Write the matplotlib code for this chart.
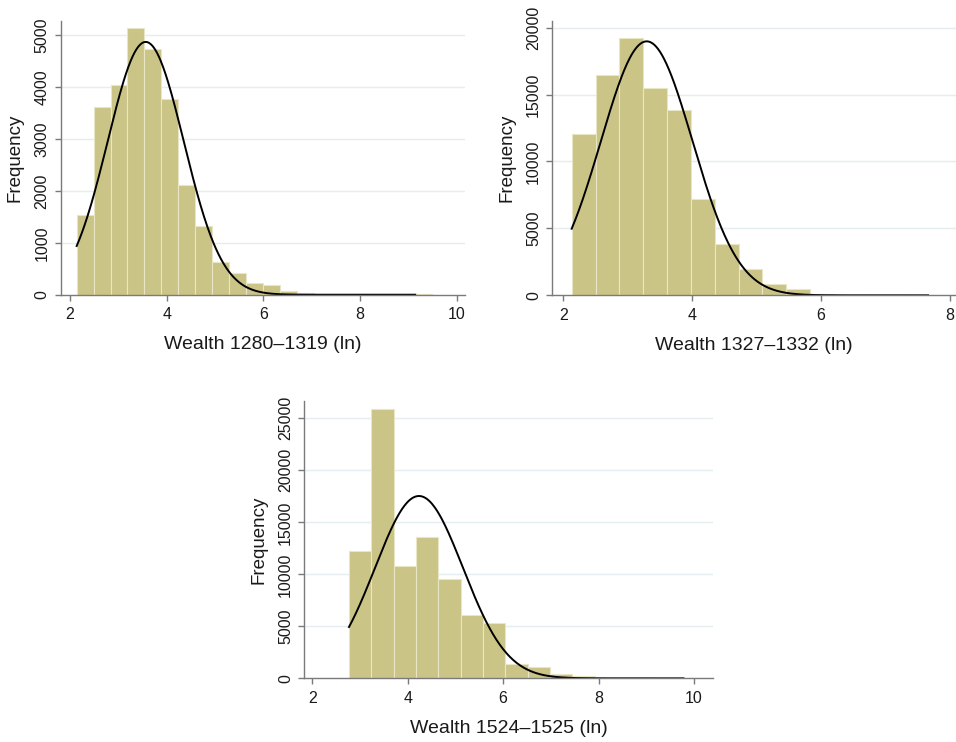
import numpy as np
import matplotlib
matplotlib.use('Agg')
import matplotlib.pyplot as plt

plt.rcParams['font.family'] = ['Liberation Sans', 'DejaVu Sans']

# Panel 1: wealth 1280-1319
start1 = 2.138
width1 = 0.35
counts1 = [1542, 3625, 4042, 5148, 4730, 3772, 2114, 1324, 630, 411, 225, 180,
           70, 25, 12, 8, 5, 3, 2, 2, 15]
mu1, sd1, n1, xmax1 = 3.566, 0.787, 27455, 9.14

# Panel 2: wealth 1327-1332
start2 = 2.130
width2 = 0.37
counts2 = [12055, 16438, 19228, 15517, 13823, 7173, 3861, 1943, 872, 473, 100,
           60, 30, 15, 10]
mu2, sd2, n2, xmax2 = 3.294, 0.7115, 91480, 7.66

# Panel 3: wealth 1524-1525
start3 = 2.769
width3 = 0.468
counts3 = [12276, 25897, 10833, 13558, 9519, 6058, 5321, 1378, 1090, 385, 192,
           60, 15, 8, 5, 40]
mu3, sd3, n3, xmax3 = 4.236, 0.9215, 86530, 9.78

labels = ['Wealth 1280\u20131319 (ln)', 'Wealth 1327\u20131332 (ln)',
          'Wealth 1524\u20131525 (ln)']

bar_col = '#cbc487'
edge_col = '#e9e6c6'
grid_col = '#e4edef'
axis_col = '#7a7a7a'

fig = plt.figure(figsize=(9.56, 7.42), dpi=100)


def draw_panel(rect, start, width, counts, mu, sd, n, xmax, xlim, ylim,
               xticks, yticks, label):
    ax = fig.add_axes(rect)
    edges = start + width * np.arange(len(counts))
    ax.bar(edges, counts, width=width, align='edge', color=bar_col,
           edgecolor=edge_col, linewidth=0.8, zorder=2)
    # normal density scaled to frequency
    xs = np.linspace(start, xmax, 400)
    ys = n * width / (sd * np.sqrt(2 * np.pi)) * np.exp(-0.5 * ((xs - mu) / sd) ** 2)
    ax.plot(xs, ys, color='black', lw=1.4, zorder=3)

    ax.set_xlim(*xlim)
    ax.set_ylim(*ylim)
    ax.set_xticks(xticks)
    ax.set_yticks(yticks)
    for y in yticks[1:]:
        ax.axhline(y, color=grid_col, lw=1.0, zorder=1)
    for s in ['top', 'right']:
        ax.spines[s].set_visible(False)
    for s in ['left', 'bottom']:
        ax.spines[s].set_color(axis_col)
        ax.spines[s].set_linewidth(1.0)
    ax.spines['bottom'].set_zorder(4)
    ax.tick_params(axis='both', direction='out', length=4, width=1.0,
                   color=axis_col, labelsize=11.5, labelcolor='#1a1a1a')
    ax.tick_params(axis='x', pad=5)
    ax.tick_params(axis='y', pad=4)
    for t in ax.get_yticklabels():
        t.set_rotation(90)
        t.set_va('center')
    ax.set_xlabel(label, fontsize=14, labelpad=10, color='#1a1a1a')
    ax.set_ylabel('Frequency', fontsize=13.5, labelpad=8, color='#1a1a1a')
    return ax


draw_panel([0.0635, 0.6028, 0.4229, 0.3693], start1, width1, counts1,
           mu1, sd1, n1, xmax1, (1.808, 10.17), (0, 5280),
           [2, 4, 6, 8, 10], [0, 1000, 2000, 3000, 4000, 5000], labels[0])

draw_panel([0.5777, 0.602, 0.4223, 0.3701], start2, width2, counts2,
           mu2, sd2, n2, xmax2, (1.829, 8.093), (0, 20520),
           [2, 4, 6, 8], [0, 5000, 10000, 15000, 20000], labels[1])

draw_panel([0.3183, 0.0858, 0.4278, 0.3741], start3, width3, counts3,
           mu3, sd3, n3, xmax3, (1.832, 10.405), (0, 26690),
           [2, 4, 6, 8, 10], [0, 5000, 10000, 15000, 20000, 25000], labels[2])

fig.savefig('out.png', dpi=100)
